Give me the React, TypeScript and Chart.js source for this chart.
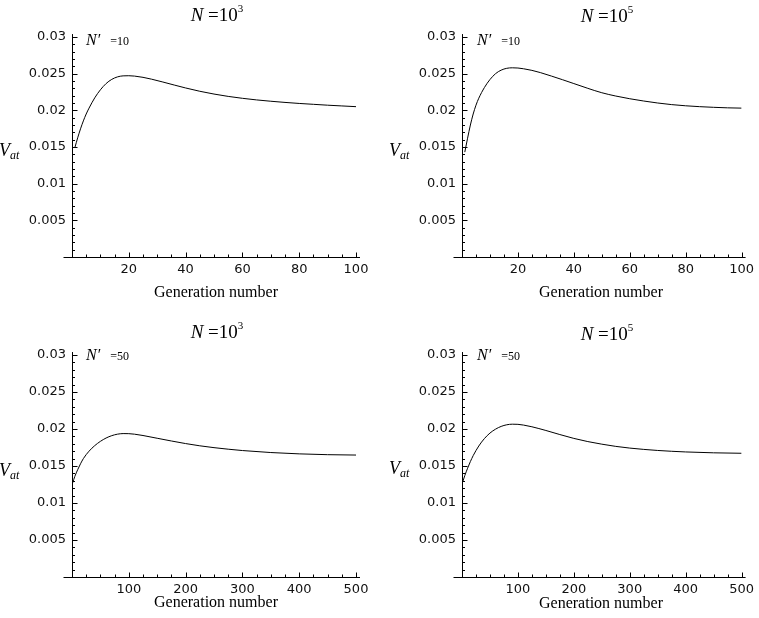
import React, { useEffect, useRef } from "react";
import { Chart, registerables } from "chart.js";

Chart.register(...registerables);

// ---------- data ----------
const gensShort = [1, 2, 3, 4, 5, 6, 8, 10, 12, 14, 16, 18, 20, 22, 25, 28, 32, 36, 40, 45, 50, 55, 60, 65, 70, 75, 80, 85, 90, 95, 100];
const gensLong = [1, 5, 10, 15, 20, 30, 40, 50, 60, 70, 80, 90, 100, 110, 125, 150, 175, 200, 225, 250, 275, 300, 350, 400, 450, 500];

// N = 10^3, N' = 10
const vatN3Np10 = [0.0149, 0.01625, 0.01748, 0.01856, 0.0195, 0.0203, 0.0217, 0.0228, 0.02365, 0.02422, 0.02456, 0.0247, 0.02472, 0.02467, 0.0245, 0.02425, 0.02386, 0.02345, 0.02305, 0.0226, 0.02222, 0.0219, 0.02164, 0.02142, 0.02124, 0.02108, 0.02094, 0.02082, 0.0207, 0.0206, 0.0205];
// N = 10^5, N' = 10
const vatN5Np10 = [0.0143, 0.0162, 0.018, 0.0195, 0.0207, 0.02165, 0.0231, 0.0242, 0.025, 0.02548, 0.02573, 0.0258, 0.02577, 0.02567, 0.02545, 0.02515, 0.02467, 0.02417, 0.02365, 0.023, 0.0224, 0.02195, 0.02158, 0.02127, 0.021, 0.02078, 0.02062, 0.0205, 0.02041, 0.02034, 0.0203];
// N = 10^3, N' = 50
const vatN3Np50 = [0.0127, 0.0136, 0.0145, 0.0153, 0.016, 0.017, 0.01775, 0.01833, 0.01878, 0.0191, 0.0193, 0.01938, 0.01937, 0.0193, 0.01912, 0.01875, 0.01838, 0.01803, 0.01773, 0.01748, 0.01727, 0.01709, 0.01682, 0.01664, 0.01653, 0.01648];
// N = 10^5, N' = 50
const vatN5Np50 = [0.0128, 0.0137, 0.0147, 0.0156, 0.0164, 0.0177, 0.0187, 0.01945, 0.01998, 0.02035, 0.02057, 0.02065, 0.02063, 0.02053, 0.0203, 0.0198, 0.01925, 0.01873, 0.0183, 0.01795, 0.01765, 0.01742, 0.0171, 0.0169, 0.01678, 0.01672];

const xTicksShort = [20, 40, 60, 80, 100];
const xTicksLong = [100, 200, 300, 400, 500];
const yTicks = [0.005, 0.01, 0.015, 0.02, 0.025, 0.03];

const titleExponents = ["3", "5", "3", "5"];
const nPrimeValues = ["10", "10", "50", "50"];
const xAxisTitle = "Generation number";

// ---------- layout ----------
type Panel = {
  left: number; top: number; w: number; h: number;
  aL: number; aR: number; aT: number; aB: number;
  xMax: number; xMajor: number; xMinor: number;
  gens: number[]; vals: number[]; xTicks: number[];
};

const panels: Panel[] = [
  { left: 0, top: 0, w: 380, h: 309, aL: 72, aR: 356, aT: 37, aB: 257, xMax: 100, xMajor: 20, xMinor: 5, gens: gensShort, vals: vatN3Np10, xTicks: xTicksShort },
  { left: 380, top: 0, w: 379, h: 309, aL: 82, aR: 362, aT: 37, aB: 257, xMax: 100, xMajor: 20, xMinor: 5, gens: gensShort, vals: vatN5Np10, xTicks: xTicksShort },
  { left: 0, top: 309, w: 380, h: 309, aL: 72, aR: 356, aT: 46, aB: 268, xMax: 500, xMajor: 100, xMinor: 25, gens: gensLong, vals: vatN3Np50, xTicks: xTicksLong },
  { left: 380, top: 309, w: 379, h: 309, aL: 82, aR: 365, aT: 46, aB: 268, xMax: 500, xMajor: 100, xMinor: 25, gens: gensLong, vals: vatN5Np50, xTicks: xTicksLong },
];

const SERIF = "'Liberation Serif', 'Times New Roman', serif";
const SANS = "'DejaVu Sans', sans-serif";

function makeAxesPlugin(p: Panel) {
  return {
    id: "mathAxes",
    afterDraw(chart: any) {
      const { ctx } = chart;
      const x = chart.scales.x;
      const y = chart.scales.y;
      ctx.save();
      ctx.strokeStyle = "#000";
      ctx.lineWidth = 1;
      const x0 = Math.round(x.getPixelForValue(0)) + 0.5;
      const y0 = Math.round(y.getPixelForValue(0)) + 0.5;
      const line = (a: number, b: number, c: number, d: number) => {
        ctx.beginPath();
        ctx.moveTo(a, b);
        ctx.lineTo(c, d);
        ctx.stroke();
      };
      line(x0, y.getPixelForValue(0.0304), x0, y0);
      line(x0 - 9, y0, x.getPixelForValue(p.xMax) + 4, y0);
      for (let k = 1; k <= 30; k++) {
        const py = Math.round(y.getPixelForValue(k * 0.001)) + 0.5;
        const len = k % 5 === 0 ? 5 : 2.5;
        line(x0, py, x0 + len, py);
      }
      const n = Math.round(p.xMax / p.xMinor);
      for (let k = 1; k <= n; k++) {
        const v = k * p.xMinor;
        const px = Math.round(x.getPixelForValue(v)) + 0.5;
        const len = v % p.xMajor === 0 ? 5 : 3;
        line(px, y0, px, y0 - len);
      }
      ctx.restore();
    },
  };
}

function PanelChart({ p }: { p: Panel }) {
  const ref = useRef<HTMLCanvasElement | null>(null);
  useEffect(() => {
    if (!ref.current) return;
    const chart = new Chart(ref.current, {
      type: "line",
      data: {
        datasets: [
          {
            data: p.gens.map((g, i) => ({ x: g, y: p.vals[i] })),
            borderColor: "#000",
            borderWidth: 1,
            pointRadius: 0,
            fill: false,
            cubicInterpolationMode: "monotone",
          },
        ],
      },
      options: {
        responsive: false,
        animation: false,
        devicePixelRatio: 1,
        events: [],
        layout: {
          padding: { left: 0, right: p.w - p.aR, top: p.aT, bottom: p.h - p.aB - 30 },
        },
        plugins: { legend: { display: false }, tooltip: { enabled: false }, title: { display: false } },
        scales: {
          x: {
            type: "linear",
            min: 0,
            max: p.xMax,
            afterFit: (s: any) => { s.height = 30; },
            afterBuildTicks: (s: any) => { s.ticks = p.xTicks.map((v) => ({ value: v })); },
            grid: { display: false, drawTicks: false },
            border: { display: false },
            ticks: {
              padding: 5,
              maxRotation: 0,
              autoSkip: false,
              color: "#111",
              font: { family: SANS, size: 13 },
              callback: (v: any) => String(v),
            },
          },
          y: {
            type: "linear",
            min: 0,
            max: 0.03,
            afterFit: (s: any) => { s.width = p.aL; },
            afterBuildTicks: (s: any) => { s.ticks = yTicks.map((v) => ({ value: v })); },
            grid: { display: false, drawTicks: false },
            border: { display: false },
            ticks: {
              padding: 6,
              autoSkip: false,
              color: "#111",
              font: { family: SANS, size: 13 },
              callback: (v: any) => String(Number(Number(v).toFixed(3))),
            },
          },
        },
      } as any,
      plugins: [makeAxesPlugin(p)],
    });
    return () => chart.destroy();
  }, [p]);
  return (
    <canvas
      ref={ref}
      width={p.w}
      height={p.h}
      style={{ position: "absolute", left: p.left, top: p.top, width: p.w, height: p.h }}
    />
  );
}

function Txt(props: { x: number; baseline: number; size: number; center?: boolean; children: any }) {
  const { x, baseline, size, center, children } = props;
  return (
    <div
      style={{
        position: "absolute",
        left: x,
        top: baseline - 0.8375 * size,
        fontSize: size,
        lineHeight: `${size}px`,
        fontFamily: SERIF,
        color: "#000",
        whiteSpace: "nowrap",
        transform: center ? "translateX(-50%)" : undefined,
      }}
    >
      {children}
    </div>
  );
}

export default function App() {
  const titlePos = [
    { x: 217, b: 21 },
    { x: 607, b: 22 },
    { x: 217, b: 338 },
    { x: 607, b: 340 },
  ];
  const genPos = [
    { x: 216, b: 297 },
    { x: 601, b: 297 },
    { x: 216, b: 607 },
    { x: 601, b: 608 },
  ];
  const vPos = [
    { x: -1, b: 156 },
    { x: 389, b: 156 },
    { x: -1, b: 476 },
    { x: 389, b: 474 },
  ];
  const npPos = [
    { x: 86, b: 45 },
    { x: 477, b: 45 },
    { x: 86, b: 360 },
    { x: 477, b: 360 },
  ];
  return (
    <div style={{ position: "absolute", left: 0, top: 0, width: 759, height: 618, background: "#fff", overflow: "hidden" }}>
      {panels.map((p, i) => (
        <PanelChart key={i} p={p} />
      ))}
      {panels.map((p, i) => (
        <React.Fragment key={"t" + i}>
          <Txt x={titlePos[i].x} baseline={titlePos[i].b} size={19} center>
            <i>N</i>
            {" =10"}
            <span style={{ fontSize: 11, position: "relative", top: -9 }}>{titleExponents[i]}</span>
          </Txt>
          <Txt x={genPos[i].x} baseline={genPos[i].b} size={16} center>
            {xAxisTitle}
          </Txt>
          <Txt x={vPos[i].x} baseline={vPos[i].b} size={18}>
            <i>V</i>
            <i style={{ fontSize: 12, position: "relative", top: 3 }}>at</i>
          </Txt>
          <Txt x={npPos[i].x} baseline={npPos[i].b} size={16}>
            <i>N′</i>
            <span style={{ marginLeft: 10, fontSize: 12 }}>={nPrimeValues[i]}</span>
          </Txt>
        </React.Fragment>
      ))}
    </div>
  );
}
